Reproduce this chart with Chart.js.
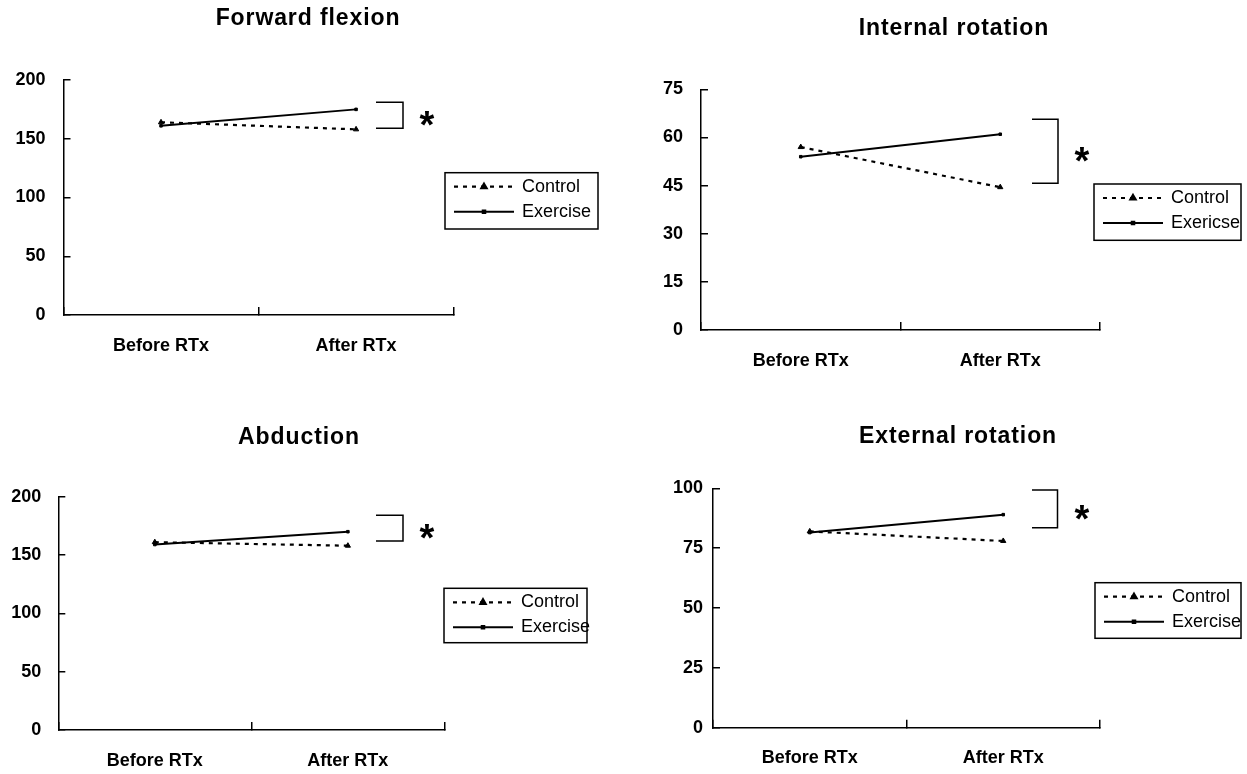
<!DOCTYPE html>
<html>
<head>
<meta charset="utf-8">
<script src="https://cdn.jsdelivr.net/npm/chart.js@4.4.1/dist/chart.umd.min.js"></script>
<style>
  html, body { margin: 0; padding: 0; background: #fff; }
  #wrap { position: relative; width: 1247px; height: 774px; }
  #wrap canvas { position: absolute; left: 0; top: 0; }
</style>
</head>
<body>
<div id="wrap">
  <canvas id="c1" width="1247" height="774"></canvas>
  <canvas id="c2" width="1247" height="774"></canvas>
  <canvas id="c3" width="1247" height="774"></canvas>
  <canvas id="c4" width="1247" height="774"></canvas>
</div>
<script>
// valeurs (degrés)
const categories = ["Before RTx", "After RTx"];

const flexControl = [164, 158];
const flexExercise = [161, 175];
const flexBracket = [159, 181];
const flexLegend = ["Control", "Exercise"];

const intControl = [57, 44.5];
const intExercise = [54, 61];
const intBracket = [45.7, 65.7];
const intLegend = ["Control", "Exericse"];

const abdControl = [161, 158];
const abdExercise = [159, 170];
const abdBracket = [162, 184];
const abdLegend = ["Control", "Exercise"];

const extControl = [82, 78];
const extExercise = [81.5, 89];
const extBracket = [83.5, 99.3];
const extLegend = ["Control", "Exercise"];

const W = 1247, H = 774, Y_W = 56, X_H = 44;
const FONT = '"Liberation Sans", Arial, sans-serif';

// mise en page de chaque panneau (zone du graphe : gauche, droite, haut, bas)
const panels = [
  { id: "c1", title: "Forward flexion", titlePos: [308, 19], area: [63.5, 453.6, 80, 315], yMax: 200, yStep: 50, yGap: 18,
    control: flexControl, exercise: flexExercise, bracket: flexBracket, legend: flexLegend,
    bracketX: [376, 403], starX: 427, legendBox: [445, 598, 172.7, 229] },
  { id: "c2", title: "Internal rotation", titlePos: [954, 29], area: [701, 1100, 89.3, 330], yMax: 75, yStep: 15, yGap: 18,
    control: intControl, exercise: intExercise, bracket: intBracket, legend: intLegend,
    bracketX: [1032, 1058], starX: 1082, legendBox: [1094, 1241, 184, 240.3] },
  { id: "c3", title: "Abduction", titlePos: [299, 438], area: [58.3, 444.4, 496.7, 730], yMax: 200, yStep: 50, yGap: 17,
    control: abdControl, exercise: abdExercise, bracket: abdBracket, legend: abdLegend,
    bracketX: [376, 403], starX: 427, legendBox: [444, 587, 588.3, 642.7] },
  { id: "c4", title: "External rotation", titlePos: [958, 437], area: [713, 1100, 488.3, 727.7], yMax: 100, yStep: 25, yGap: 10,
    control: extControl, exercise: extExercise, bracket: extBracket, legend: extLegend,
    bracketX: [1032, 1057.5], starX: 1082, legendBox: [1095, 1241, 582.7, 638.3] },
];

function decor(p) {
  return {
    id: "decor_" + p.id,
    afterDraw(chart) {
      const ctx = chart.ctx, y = chart.scales.y;
      ctx.save();
      ctx.fillStyle = "#000";
      ctx.strokeStyle = "#000";

      // titre
      ctx.font = "bold 23px " + FONT;
      ctx.letterSpacing = "0.9px";
      ctx.textAlign = "center";
      ctx.textBaseline = "middle";
      ctx.fillText(p.title, p.titlePos[0], p.titlePos[1]);
      ctx.letterSpacing = "0px";

      // crochet + étoile
      const yTop = y.getPixelForValue(p.bracket[1]);
      const yBot = y.getPixelForValue(p.bracket[0]);
      ctx.lineWidth = 1.5;
      ctx.beginPath();
      ctx.moveTo(p.bracketX[0], yTop);
      ctx.lineTo(p.bracketX[1], yTop);
      ctx.lineTo(p.bracketX[1], yBot);
      ctx.lineTo(p.bracketX[0], yBot);
      ctx.stroke();
      ctx.font = "bold 38px " + FONT;
      ctx.textBaseline = "alphabetic";
      ctx.fillText("*", p.starX, (yTop + yBot) / 2 + 2 + 21);

      // légende
      const [x0, x1, y0, y1] = p.legendBox;
      ctx.lineWidth = 1.5;
      ctx.strokeRect(x0, y0, x1 - x0, y1 - y0);
      chart.data.datasets.forEach((ds, i) => {
        const ry = y0 + (i ? 39 : 14);
        ctx.lineWidth = ds.borderWidth;
        ctx.setLineDash(ds.borderDash || []);
        ctx.beginPath();
        ctx.moveTo(x0 + 9, ry);
        ctx.lineTo(x0 + 69, ry);
        ctx.stroke();
        ctx.setLineDash([]);
        if (Chart.helpers && Chart.helpers.drawPoint) {
          Chart.helpers.drawPoint(ctx, { pointStyle: ds.pointStyle, radius: ds.pointRadius, rotation: 0, borderWidth: 1 }, x0 + 39, ry);
        }
        ctx.font = "18px " + FONT;
        ctx.textAlign = "left";
        ctx.textBaseline = "middle";
        ctx.fillText(ds.label, x0 + 77, ry);
      });
      ctx.restore();
    },
  };
}

panels.forEach((p) => {
  const [L, R, T, B] = p.area;
  new Chart(document.getElementById(p.id), {
    type: "line",
    data: {
      labels: categories,
      datasets: [
        { label: p.legend[0], data: p.control, borderColor: "#000", backgroundColor: "#000", borderWidth: 2.2, borderDash: [4, 5],
          pointStyle: "triangle", pointRadius: 3, pointBorderWidth: 1 },
        { label: p.legend[1], data: p.exercise, borderColor: "#000", backgroundColor: "#000", borderWidth: 2,
          pointStyle: "rect", pointRadius: 1.8, pointBorderWidth: 1 },
      ],
    },
    options: {
      responsive: false, devicePixelRatio: 1, animation: false,
      layout: { padding: { left: L - Y_W, right: W - R, top: T, bottom: H - B - X_H } },
      plugins: { legend: { display: false }, title: { display: false }, tooltip: { enabled: false } },
      scales: {
        x: {
          offset: true,
          grid: { offset: true, drawOnChartArea: false, color: "#000", lineWidth: 1.5, tickLength: -8 },
          border: { color: "#000", width: 1.5 },
          ticks: { color: "#000", padding: 28, font: { family: FONT, size: 18, weight: "bold" } },
          afterFit: (s) => { s.height = X_H; },
        },
        y: {
          min: 0, max: p.yMax,
          grid: { drawOnChartArea: false, color: "#000", lineWidth: 1.5, tickLength: -7 },
          border: { color: "#000", width: 1.5 },
          ticks: { stepSize: p.yStep, color: "#000", padding: p.yGap + 7, font: { family: FONT, size: 18, weight: "bold" } },
          afterFit: (s) => { s.width = Y_W; },
        },
      },
    },
    plugins: [decor(p)],
  });
});
</script>
</body>
</html>
